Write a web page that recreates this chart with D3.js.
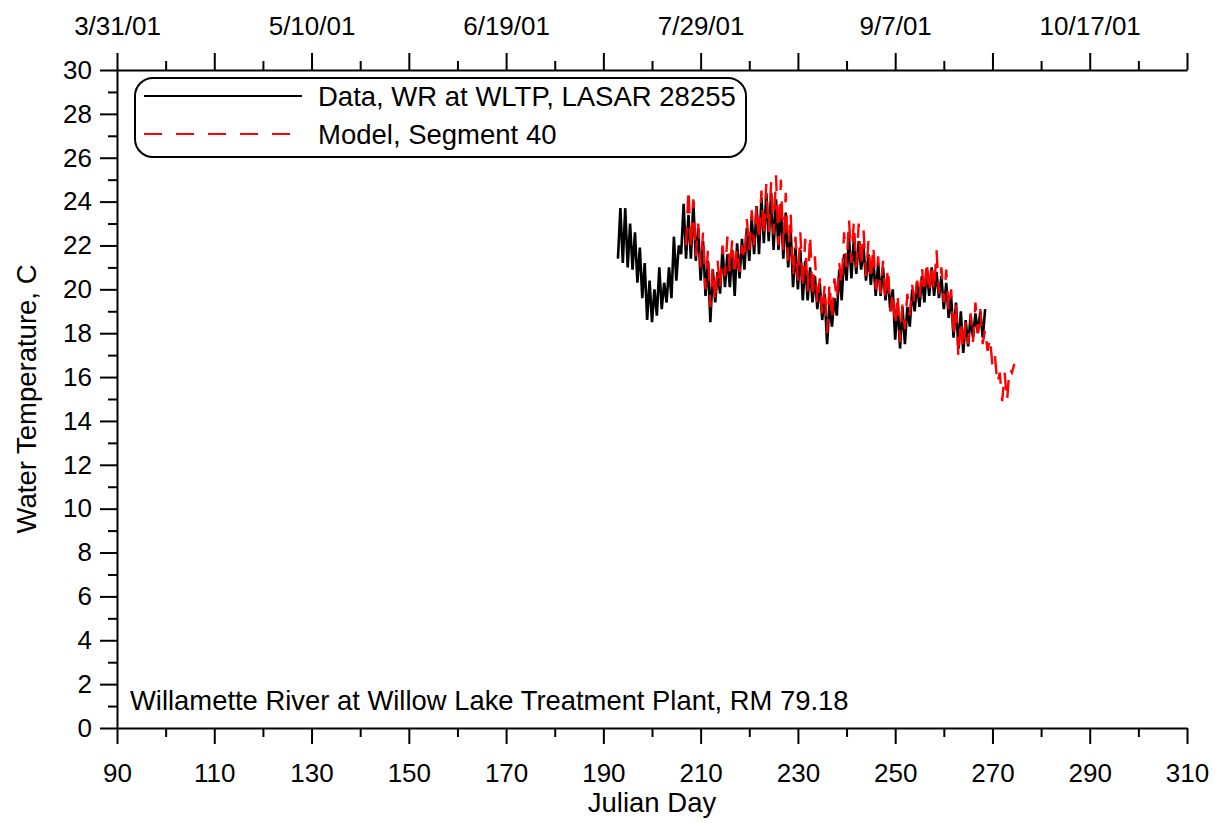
<!DOCTYPE html>
<html><head><meta charset="utf-8">
<script src="https://cdn.jsdelivr.net/npm/d3@7"></script>
<style>
body{margin:0;background:#fff;}
text{font-family:Arial,"Liberation Sans",sans-serif;fill:#000;}
</style></head>
<body>
<svg id="chart" width="1222" height="823"></svg>
<script>
// ---------- DATA ----------
const dataDays = d3.range(193, 269);            // Julian days 193..268
const dataMin = [21.4,21.2,21.0,20.9,20.3,19.6,18.6,18.5,18.8,19.1,19.4,19.6,20.4,21.6,21.4,21.4,21.3,20.4,19.7,18.5,
  19.4,19.8,20.1,20.1,19.7,20.5,20.9,21.3,21.6,21.6,22.1,22.2,21.8,21.8,21.4,21.0,20.1,20.0,19.5,19.5,
  19.4,19.1,18.6,17.5,18.3,18.8,19.5,20.4,20.5,20.7,20.9,20.4,20.2,19.7,19.7,19.5,19.0,17.7,17.3,17.5,
  18.3,19.0,19.2,19.4,19.7,19.7,19.6,19.1,18.7,17.8,17.3,17.1,17.4,17.8,18.0,17.8];
const dataMax = [23.7,23.7,23.0,22.6,21.9,21.2,20.4,20.0,21.0,20.3,21.0,22.4,22.0,23.9,23.4,24.0,22.8,22.2,21.3,20.9,
  20.8,21.9,21.6,21.8,22.1,22.3,22.8,23.3,23.8,24.2,24.4,24.4,24.1,23.8,23.5,22.8,21.9,21.8,21.3,21.0,
  20.6,20.3,19.8,19.4,19.6,20.9,21.6,22.4,22.3,22.2,21.9,21.6,21.4,21.2,21.0,20.6,20.0,19.4,19.2,19.2,
  20.0,20.3,20.6,20.9,21.0,20.8,20.6,20.3,19.7,19.4,19.0,18.6,18.8,18.9,19.0,19.1];

const modelDays = d3.range(207, 275);           // Julian days 207..274
const modelMin = [22.0,21.8,21.5,21.0,20.0,19.2,19.4,20.0,20.6,20.8,20.6,20.8,21.3,21.8,22.0,22.2,22.4,22.6,22.5,22.0,
  21.8,21.3,20.6,20.4,20.0,19.9,19.6,19.3,18.8,18.0,18.6,19.5,20.2,21.0,21.2,21.0,21.0,20.6,20.4,20.0,
  19.8,19.5,19.0,18.3,17.6,18.2,18.8,19.3,19.6,19.8,19.8,19.9,19.8,19.4,19.0,17.8,16.9,17.3,17.5,17.6,
  18.0,17.5,17.2,16.5,15.7,14.9,14.9,16.2];
const modelMax = [24.6,24.1,23.0,22.6,21.8,21.0,21.3,22.0,22.4,22.3,21.9,22.0,23.2,23.6,23.9,24.5,24.8,24.9,25.2,25.0,
  24.4,23.5,22.4,22.6,22.3,22.5,21.5,20.5,20.2,20.3,20.5,21.2,22.6,23.2,23.1,23.0,22.7,22.2,22.0,21.5,
  21.3,21.0,19.9,19.8,19.3,19.8,20.2,20.4,21.0,21.3,21.2,21.8,21.0,20.9,20.0,19.4,18.6,18.5,18.9,19.4,
  19.1,18.2,17.8,17.0,16.2,16.2,16.4,16.6];

const xMajorTicks = d3.range(90, 311, 20);
const xMinorTicks = d3.range(100, 311, 20);
const yMajorTicks = d3.range(0, 31, 2);
const yMinorTicks = d3.range(1, 30, 2);
const topLabelDays = [90, 130, 170, 210, 250, 290];
const topLabels = ["3/31/01", "5/10/01", "6/19/01", "7/29/01", "9/7/01", "10/17/01"];
const seriesNames = ["Data, WR at WLTP, LASAR 28255", "Model, Segment 40"];
const siteLabel = "Willamette River at Willow Lake Treatment Plant, RM 79.18";

// ---------- LAYOUT ----------
const svg = d3.select("#chart");
const L = 117, R = 1187, T = 70, B = 728;
const x = d3.scaleLinear().domain([90, 310]).range([L, R]);
const y = d3.scaleLinear().domain([0, 30]).range([B, T]);
const fs = 26;

function styleAxis(g, showText) {
  g.select(".domain").attr("stroke", "#000").attr("stroke-width", 2);
  g.selectAll(".tick line").attr("stroke", "#000").attr("stroke-width", 2);
  g.selectAll(".tick text").style("font-size", fs + "px").style("font-family", "Arial, 'Liberation Sans', sans-serif").attr("fill", "#000");
  if (!showText) g.selectAll(".tick text").remove();
}

// bottom axis
svg.append("g").attr("transform", `translate(0,${B})`)
  .call(d3.axisBottom(x).tickValues(xMajorTicks).tickSize(16).tickPadding(20).tickSizeOuter(0))
  .call(g => styleAxis(g, true));
svg.append("g").attr("transform", `translate(0,${B})`)
  .call(d3.axisBottom(x).tickValues(xMinorTicks).tickSize(9).tickSizeOuter(0))
  .call(g => { styleAxis(g, false); g.select(".domain").remove(); });

// top axis
svg.append("g").attr("transform", `translate(0,${T})`)
  .call(d3.axisTop(x).tickValues(xMajorTicks).tickSize(17).tickPadding(18).tickSizeOuter(0)
    .tickFormat(d => { const i = topLabelDays.indexOf(d); return i >= 0 ? topLabels[i] : ""; }))
  .call(g => styleAxis(g, true));
svg.append("g").attr("transform", `translate(0,${T})`)
  .call(d3.axisTop(x).tickValues(xMinorTicks).tickSize(9).tickSizeOuter(0))
  .call(g => { styleAxis(g, false); g.select(".domain").remove(); });

// left axis
svg.append("g").attr("transform", `translate(${L},0)`)
  .call(d3.axisLeft(y).tickValues(yMajorTicks).tickSize(17).tickPadding(8).tickSizeOuter(0))
  .call(g => styleAxis(g, true));
svg.append("g").attr("transform", `translate(${L},0)`)
  .call(d3.axisLeft(y).tickValues(yMinorTicks).tickSize(9).tickSizeOuter(0))
  .call(g => { styleAxis(g, false); g.select(".domain").remove(); });

// axis titles
svg.append("text").attr("x", (L + R) / 2).attr("y", 812).attr("text-anchor", "middle")
  .style("font-size", "27.5px").text("Julian Day");
svg.append("text").attr("transform", `translate(36,${(T + B) / 2}) rotate(-90)`).attr("text-anchor", "middle")
  .style("font-size", "27.5px").text("Water Temperature, C");

// ---------- SERIES ----------
function zig(days, mins, maxs) {
  const pts = [];
  days.forEach((d, i) => { pts.push([d, mins[i]]); pts.push([d + 0.5, maxs[i]]); });
  return pts;
}
const line = d3.line().x(d => x(d[0])).y(d => y(d[1]));

svg.append("path").datum(zig(dataDays, dataMin, dataMax))
  .attr("d", line).attr("fill", "none").attr("stroke", "#000").attr("stroke-width", 2.6);
svg.append("path").datum(zig(modelDays, modelMin, modelMax))
  .attr("d", line).attr("fill", "none").attr("stroke", "#ff0000").attr("stroke-width", 2.4)
  .attr("stroke-dasharray", "18,14");

// ---------- LEGEND ----------
const lg = svg.append("g");
lg.append("rect").attr("x", 135).attr("y", 78).attr("width", 611).attr("height", 79).attr("rx", 18).attr("ry", 18)
  .attr("fill", "#fff").attr("stroke", "#000").attr("stroke-width", 2);
lg.append("line").attr("x1", 144).attr("x2", 302).attr("y1", 96).attr("y2", 96).attr("stroke", "#000").attr("stroke-width", 2);
lg.append("line").attr("x1", 144).attr("x2", 302).attr("y1", 134).attr("y2", 134).attr("stroke", "#ff0000").attr("stroke-width", 2)
  .attr("stroke-dasharray", "18,14");
lg.append("text").attr("x", 318).attr("y", 106).style("font-size", "27.5px").text(seriesNames[0]);
lg.append("text").attr("x", 318).attr("y", 144).style("font-size", "27.5px").text(seriesNames[1]);

// site label
svg.append("text").attr("x", 130).attr("y", 710).style("font-size", "27.4px").text(siteLabel);
</script>
</body></html>
